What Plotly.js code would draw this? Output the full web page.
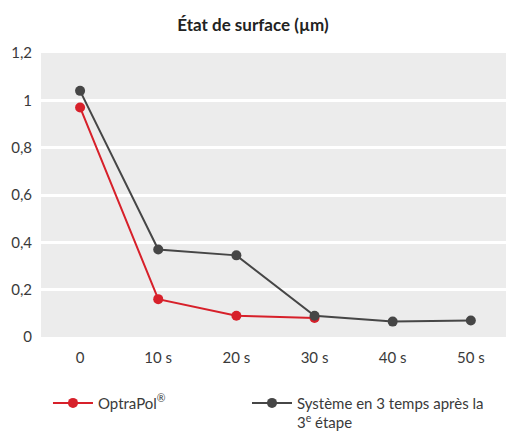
<!DOCTYPE html>
<html>
<head>
<meta charset="utf-8">
<script src="https://cdn.plot.ly/plotly-3.0.1.min.js"></script>
<style>html,body{margin:0;padding:0;background:#fff;}#chart{width:506px;height:432px;}</style>
</head>
<body>
<div id="chart"></div>
<script>
const categories = ["0", "10 s", "20 s", "30 s", "40 s", "50 s"];
const optrapol = [0.97, 0.16, 0.09, 0.08, null, null];
const systeme = [1.04, 0.37, 0.345, 0.09, 0.065, 0.07];
const seriesNames = ["OptraPol<sup>®</sup>", "Système en 3 temps après la<br>3<sup>e</sup> étape"];
const yTicks = [0, 0.2, 0.4, 0.6, 0.8, 1, 1.2];

const textColor = "#3a3a3a";
const fontFam = "Lato, 'Open Sans', sans-serif";

const traces = [
  {
    x: categories, y: optrapol, name: seriesNames[0], type: "scatter", mode: "lines+markers",
    line: {color: "#d7202a", width: 2}, marker: {color: "#d7202a", size: 10}, legend: "legend"
  },
  {
    x: categories, y: systeme, name: seriesNames[1], type: "scatter", mode: "lines+markers",
    line: {color: "#464646", width: 2}, marker: {color: "#464646", size: 10}, legend: "legend2"
  }
];

const legendBase = {
  orientation: "h", xanchor: "left", yref: "container", y: 0.105, yanchor: "top",
  font: {size: 15, color: textColor}, itemwidth: 40, valign: "top", bgcolor: "rgba(0,0,0,0)"
};

const layout = {
  width: 506, height: 432,
  margin: {l: 41, r: 0, t: 53, b: 95},
  paper_bgcolor: "#ffffff",
  plot_bgcolor: "#ececec",
  separators: ", ",
  font: {family: fontFam, size: 15, color: textColor},
  title: {text: "<b>État de surface (µm)</b>", x: 0.5, xanchor: "center", y: 0.943, yanchor: "middle", font: {size: 17, color: "#222"}},
  xaxis: {
    type: "category", range: [-0.5, 5.45], showgrid: false, zeroline: false, showline: false,
    ticks: "", ticklabelstandoff: 10, tickfont: {size: 15, color: textColor}, fixedrange: true
  },
  yaxis: {
    range: [0, 1.2], tickvals: yTicks, showgrid: true, gridcolor: "#ffffff", gridwidth: 3,
    zeroline: false, showline: false, ticks: "", ticklabelstandoff: 8,
    tickfont: {size: 15, color: textColor}, fixedrange: true
  },
  showlegend: true,
  legend: Object.assign({}, legendBase, {x: 0.015}),
  legend2: Object.assign({}, legendBase, {x: 0.443})
};

Plotly.newPlot("chart", traces, layout, {displayModeBar: false, staticPlot: true});
</script>
</body>
</html>
